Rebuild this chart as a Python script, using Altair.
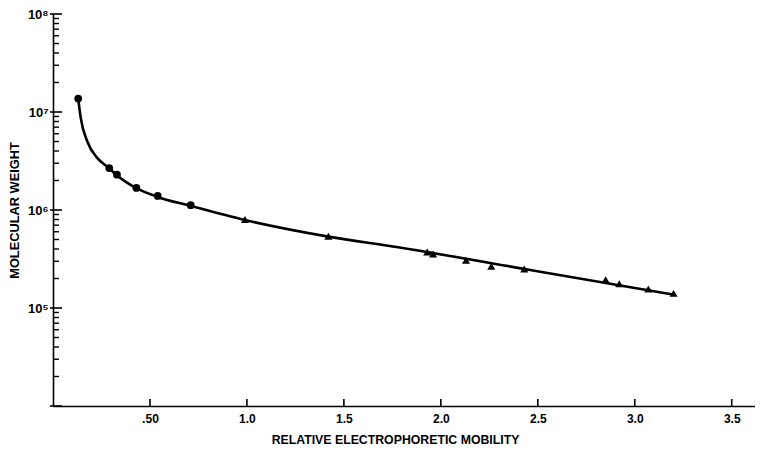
import altair as alt
import pandas as pd

# ---- data ----
circ_x = [0.13, 0.29, 0.33, 0.43, 0.54, 0.71]
circ_y = [1.37e7, 2.68e6, 2.29e6, 1.68e6, 1.39e6, 1.12e6]

tri_x = [0.99, 1.42, 1.93, 1.96, 2.13, 2.26, 2.43, 2.85, 2.92, 3.07, 3.20]
tri_y = [8.0e5, 5.4e5, 3.73e5, 3.56e5, 3.07e5, 2.67e5, 2.50e5, 1.94e5, 1.77e5, 1.56e5, 1.41e5]

curve_x = [0.13, 0.143, 0.177, 0.228, 0.289, 0.326, 0.43, 0.54, 0.71, 0.99, 1.42, 1.78, 2.49, 3.20]
curve_y = [1.37e7, 8.7e6, 5.0e6, 3.4e6, 2.68e6, 2.29e6, 1.67e6, 1.36e6, 1.10e6, 7.9e5, 5.35e5, 4.16e5, 2.39e5, 1.37e5]

x_ticks = [0.5, 1.0, 1.5, 2.0, 2.5, 3.0, 3.5]
y_major = [1e4, 1e5, 1e6, 1e7, 1e8]
y_minor = [k * 10 ** e for e in range(4, 8) for k in range(2, 10)]

W, H = 702, 392
FONT = "Liberation Sans"

xscale = alt.Scale(domain=[0, 3.62], nice=False, zero=False)
yscale = alt.Scale(type="log", domain=[1e4, 1e8], nice=False)

curve_df = pd.DataFrame({"x": curve_x, "y": curve_y})
circ_df = pd.DataFrame({"x": circ_x, "y": circ_y})
tri_df = pd.DataFrame({"x": tri_x, "y": tri_y})
xt_df = pd.DataFrame({"x": x_ticks})
ymaj_df = pd.DataFrame({"y": y_major})
ymin_df = pd.DataFrame({"y": y_minor})

sup = "['⁰','¹','²','³','⁴','⁵','⁶','⁷','⁸','⁹']"

line = alt.Chart(curve_df).mark_line(
    color="black", strokeWidth=2.6, interpolate="monotone"
).encode(
    x=alt.X("x:Q", scale=xscale, axis=alt.Axis(
        title="RELATIVE ELECTROPHORETIC MOBILITY",
        values=x_ticks,
        labelExpr="datum.value == 0.5 ? '.50' : format(datum.value, '.1f')",
        ticks=False, grid=False, domainColor="black", domainWidth=1.6,
        labelFont=FONT, labelFontWeight="bold", labelFontSize=12, labelColor="black",
        labelPadding=7,
        titleFont=FONT, titleFontWeight="bold", titleFontSize=12.3, titleColor="black",
        titleX=342, titleY=27, titleBaseline="top", titleAlign="center",
    )),
    y=alt.Y("y:Q", scale=yscale, axis=alt.Axis(
        title="MOLECULAR WEIGHT",
        values=[1e5, 1e6, 1e7, 1e8],
        labelExpr="'10' + " + sup + "[round(log(datum.value)/LN10)]",
        ticks=False, grid=False, domainColor="black", domainWidth=1.6,
        labelFont=FONT, labelFontWeight="bold", labelFontSize=13, labelColor="black",
        labelPadding=5, minExtent=28, maxExtent=28,
        titleFont=FONT, titleFontWeight="bold", titleFontSize=12.8, titleColor="black",
        titlePadding=4,
    )),
)

circles = alt.Chart(circ_df).mark_point(
    shape="circle", filled=True, color="black", size=60, opacity=1
).encode(x=alt.X("x:Q", scale=xscale), y=alt.Y("y:Q", scale=yscale))

tris = alt.Chart(tri_df).mark_point(
    shape="triangle-up", filled=True, color="black", size=65, opacity=1
).encode(x=alt.X("x:Q", scale=xscale), y=alt.Y("y:Q", scale=yscale))

ymaj = alt.Chart(ymaj_df).mark_rule(color="black", strokeWidth=1.6).encode(
    y=alt.Y("y:Q", scale=yscale), x=alt.value(-3), x2=alt.value(9)
)
ymin = alt.Chart(ymin_df).mark_rule(color="black", strokeWidth=1.4).encode(
    y=alt.Y("y:Q", scale=yscale), x=alt.value(0), x2=alt.value(6)
)
xt = alt.Chart(xt_df).mark_rule(color="black", strokeWidth=1.6).encode(
    x=alt.X("x:Q", scale=xscale), y=alt.value(H), y2=alt.value(H - 7)
)

chart = alt.layer(line, circles, tris, ymaj, ymin, xt).properties(
    width=W, height=H, padding={"left": 0, "top": 0, "right": 0, "bottom": 0},
    background="white",
).configure_view(stroke=None)

chart.save("out.html", embed_options={"renderer": "svg", "actions": False})
